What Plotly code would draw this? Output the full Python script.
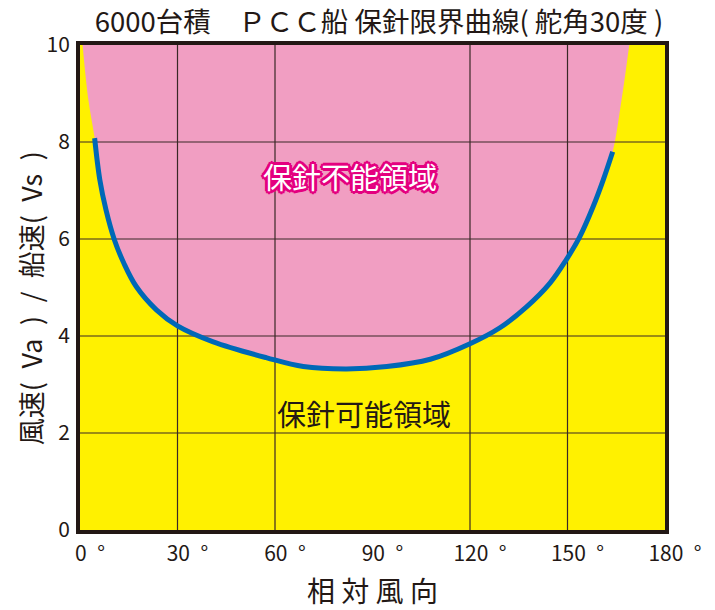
import plotly.graph_objects as go

# ---- data ----
title_text = "6000台積　ＰＣＣ船 保針限界曲線( 舵角30度 )"
x_title = "相 対 風 向"
y_title = "風速(\u2002Va\u2002)\u2002/\u2002船速(\u2002Vs\u2002)"

x_ticks = [0, 30, 60, 90, 120, 150, 180]
x_tick_labels = ["0\u2002°", "30\u2002°", "60\u2002°", "90\u2002°",
                 "120\u2002°", "150\u2002°", "180\u2002°"]
y_ticks = [0, 2, 4, 6, 8, 10]
y_tick_labels = ["0", "2", "4", "6", "8", "10"]

grid_x = [30, 60, 120, 150]      # no grid line at 90 in the reference
grid_y = [2, 4, 6, 8]

# limit curve (relative wind direction [deg] vs Va/Vs)
curve_deg = [4.5, 6.1, 8.0, 10.6, 13.5, 17.3, 23.5, 30, 41, 57.5, 68.7, 82,
             94.4, 107.8, 120, 129.2, 137.4, 144.6, 149.6, 153.8, 157.9, 161, 163.9]
curve_ratio = [8.08, 7.22, 6.6, 5.98, 5.5, 5.02, 4.54, 4.21, 3.88, 3.55, 3.37, 3.32,
               3.37, 3.52, 3.84, 4.17, 4.6, 5.09, 5.57, 6.05, 6.67, 7.22, 7.8]

# extension of the unsafe region boundary up to the top edge
left_ext_deg = [0.8, 2.5]
left_ext_ratio = [10, 8.9]
right_ext_deg = [166.7, 169]
right_ext_ratio = [8.9, 10]

label_unsafe = "保針不能領域"
label_unsafe_pos = (83, 7.3)
label_safe = "保針可能領域"
label_safe_pos = (87.5, 2.42)

x_range = [0, 180]
y_range = [0, 10]

# ---- styles ----
FONT = "Noto Sans CJK JP"
YELLOW = "#FFF100"
PINK = "#F19EC2"
BLUE = "#0068B7"
DARK = "#231815"
MAGENTA = "#E4007F"

W, H = 707, 602   # page body has an 8px margin
L, R, T, B = 72, 50, 37, 80

fig = go.Figure()

# unsafe (pink) region
fill_x = left_ext_deg + curve_deg + right_ext_deg
fill_y = left_ext_ratio + curve_ratio + right_ext_ratio
fig.add_trace(go.Scatter(
    x=fill_x, y=fill_y, mode="lines", fill="toself", fillcolor=PINK,
    line=dict(width=0, color=PINK, shape="spline", smoothing=1),
    hoverinfo="skip", showlegend=False))

# grid lines (drawn above the fill, below the curve)
gx, gy = [], []
for v in grid_x:
    gx += [v, v, None]
    gy += [y_range[0], y_range[1], None]
for v in grid_y:
    gx += [x_range[0], x_range[1], None]
    gy += [v, v, None]
fig.add_trace(go.Scatter(
    x=gx, y=gy, mode="lines", line=dict(color="#3a2826", width=1.2),
    hoverinfo="skip", showlegend=False))

# limit curve
fig.add_trace(go.Scatter(
    x=curve_deg, y=curve_ratio, mode="lines",
    line=dict(color=BLUE, width=5, shape="spline", smoothing=1),
    showlegend=False))

outline = ", ".join(f"{MAGENTA} {dx}px {dy}px 0px" for dx, dy in
                    [(2, 0), (-2, 0), (0, 2), (0, -2), (2, 2), (-2, -2), (2, -2), (-2, 2),
                     (3, 0), (-3, 0), (0, 3), (0, -3)])

fig.add_annotation(x=label_unsafe_pos[0], y=label_unsafe_pos[1], text=label_unsafe,
                   showarrow=False,
                   font=dict(family=FONT, size=29, color="white", shadow=outline))
fig.add_annotation(x=label_safe_pos[0], y=label_safe_pos[1], text=label_safe,
                   showarrow=False,
                   font=dict(family=FONT, size=29, color=DARK))

# y-axis title
fig.add_annotation(x=0, y=0.478, xref="paper", yref="paper", text=y_title,
                   textangle=-90, showarrow=False, xanchor="center", yanchor="middle",
                   xshift=-50, font=dict(family=FONT, size=27, color=DARK))

fig.update_layout(
    width=W, height=H,
    margin=dict(l=L, r=R, t=T, b=B, autoexpand=False),
    paper_bgcolor="white",
    plot_bgcolor=YELLOW,
    font=dict(family=FONT, color=DARK),
    title=dict(text=title_text, x=371 / W, xanchor="center", xref="container",
               y=1 - 14 / H, yanchor="middle", yref="container",
               font=dict(family=FONT, size=27.5, color=DARK)),
    xaxis=dict(range=x_range, tickvals=x_ticks, ticktext=x_tick_labels,
               showgrid=False, zeroline=False, ticks="", automargin=False,
               showline=True, linecolor=DARK, linewidth=4, mirror=True,
               tickfont=dict(family=FONT, size=21, color=DARK),
               ticklabelshift=10, ticklabelstandoff=2,
               title=dict(text=x_title, standoff=20,
                          font=dict(family=FONT, size=28, color=DARK))),
    yaxis=dict(range=y_range, tickvals=y_ticks, ticktext=y_tick_labels,
               showgrid=False, zeroline=False, ticks="", automargin=False,
               showline=True, linecolor=DARK, linewidth=4, mirror=True,
               tickfont=dict(family=FONT, size=21, color=DARK),
               ticklabelstandoff=2),
)

fig.write_html("out.html")
